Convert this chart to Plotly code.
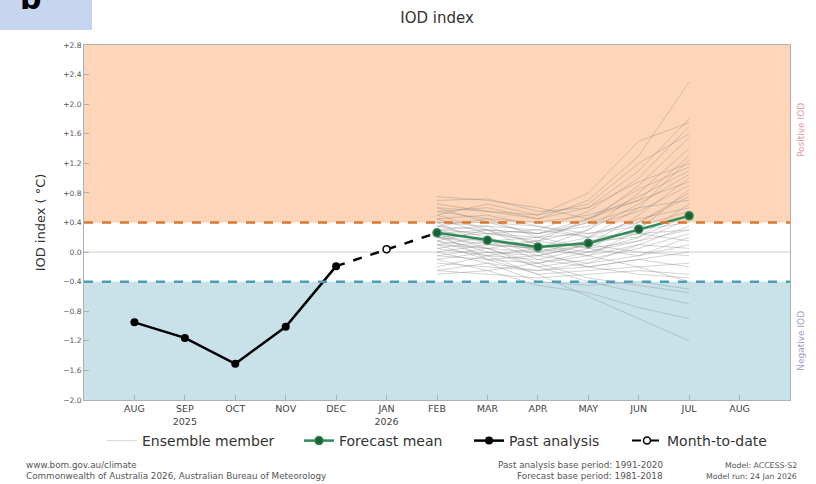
import plotly.graph_objects as go

# ---------------- data ----------------
month_labels = ["AUG", "SEP<br>2025", "OCT", "NOV", "DEC", "JAN<br>2026", "FEB",
                "MAR", "APR", "MAY", "JUN", "JUL", "AUG"]
month_pos = list(range(len(month_labels)))

past_months = ["AUG", "SEP", "OCT", "NOV", "DEC"]
past_values = [-0.95, -1.16, -1.51, -1.01, -0.19]

mtd_month = ["JAN"]
mtd_value = [0.04]

fc_months = ["FEB", "MAR", "APR", "MAY", "JUN", "JUL"]
fc_mean = [0.26, 0.16, 0.07, 0.12, 0.31, 0.49]

ensemble_members = [
    [0.55, 0.60, 0.45, 0.70, 1.30, 2.30],
    [0.70, 0.72, 0.55, 0.60, 1.10, 1.80],
    [0.40, 0.35, 0.30, 0.55, 1.00, 1.70],
    [0.30, 0.25, 0.20, 0.40, 0.90, 1.55],
    [0.20, 0.10, 0.05, 0.30, 0.80, 1.40],
    [0.45, 0.50, 0.35, 0.20, 0.60, 1.25],
    [0.10, 0.05, 0.15, 0.45, 0.75, 1.10],
    [0.35, 0.20, -0.05, 0.10, 0.50, 1.00],
    [0.60, 0.40, 0.25, 0.35, 0.55, 0.90],
    [0.25, 0.30, 0.10, -0.05, 0.30, 0.85],
    [0.15, -0.05, -0.10, 0.05, 0.40, 0.75],
    [0.50, 0.30, 0.00, 0.15, 0.20, 0.65],
    [0.05, 0.15, 0.20, 0.25, 0.35, 0.55],
    [0.30, 0.35, 0.10, 0.00, 0.15, 0.45],
    [-0.05, -0.10, -0.15, -0.05, 0.10, 0.35],
    [0.20, 0.00, -0.20, -0.10, 0.05, 0.25],
    [0.40, 0.10, 0.05, 0.20, 0.25, 0.15],
    [-0.15, -0.20, -0.25, -0.15, -0.05, 0.10],
    [0.10, 0.20, 0.00, -0.20, -0.10, 0.00],
    [0.25, -0.10, -0.30, -0.25, -0.20, -0.15],
    [-0.25, -0.30, -0.35, -0.30, -0.25, -0.30],
    [0.00, -0.15, -0.40, -0.45, -0.40, -0.50],
    [0.15, 0.05, -0.20, -0.40, -0.55, -0.70],
    [-0.10, -0.25, -0.45, -0.55, -0.75, -0.90],
    [0.05, -0.05, -0.30, -0.60, -0.90, -1.20],
    [0.35, 0.45, 0.40, 0.50, 0.70, 0.95],
    [0.65, 0.55, 0.45, 0.60, 0.95, 1.20],
    [0.20, 0.25, 0.30, 0.20, 0.45, 0.60],
    [-0.20, -0.05, 0.05, 0.15, 0.30, 0.40],
    [0.45, 0.25, 0.15, 0.30, 0.65, 1.05],
    [0.10, -0.10, -0.05, 0.10, 0.00, -0.05],
    [0.30, 0.15, -0.10, -0.20, -0.30, -0.35],
    [0.55, 0.45, 0.20, 0.05, 0.15, 0.30],
    [-0.30, -0.25, -0.15, 0.00, 0.20, 0.50],
    [0.15, 0.30, 0.25, 0.40, 0.60, 0.70],
    [0.50, 0.65, 0.50, 0.80, 1.50, 1.75],
    [0.00, 0.10, 0.15, 0.05, -0.05, 0.20],
    [0.25, 0.05, -0.15, -0.35, -0.45, -0.55],
    [0.40, 0.40, 0.35, 0.25, 0.40, 0.80],
    [-0.10, 0.00, -0.05, -0.15, 0.10, 0.05],
    [0.75, 0.70, 0.60, 0.45, 0.70, 1.30],
    [0.60, 0.55, 0.50, 0.65, 1.20, 1.60],
    [-0.25, -0.15, -0.25, -0.20, -0.10, -0.20],
    [0.20, 0.15, 0.05, -0.05, -0.20, -0.40],
    [0.35, 0.30, 0.25, 0.45, 0.85, 1.15],
    [-0.05, 0.05, 0.00, 0.10, 0.25, 0.30],
]

y_ticks = [2.8, 2.4, 2.0, 1.6, 1.2, 0.8, 0.4, 0.0, -0.4, -0.8, -1.2, -1.6, -2.0]
y_tick_labels = ["+2.8", "+2.4", "+2.0", "+1.6", "+1.2", "+0.8", "+0.4", "0.0",
                 "\u22120.4", "\u22120.8", "\u22121.2", "\u22121.6", "\u22122.0"]
pos_threshold = 0.4
neg_threshold = -0.4

# map month name -> axis position
name_to_pos = {}
for lbl, p in zip(month_labels, month_pos):
    key = lbl.split("<br>")[0]
    if key not in name_to_pos:
        name_to_pos[key] = p
x_past = [name_to_pos[m] for m in past_months]
x_mtd = [name_to_pos[m] for m in mtd_month]
x_fc = [name_to_pos[m] for m in fc_months]

FONT = "DejaVu Sans"
W, H = 816, 484
L, R, T, B = 84, 26, 45, 84
PW, PH = W - L - R, H - T - B


def px_x(px):
    return (px - L) / PW


def px_y(py):
    return 1 - (py - T) / PH


fig = go.Figure()

# background zones
fig.add_hrect(y0=pos_threshold, y1=y_ticks[0], fillcolor="#fdd6ba", line_width=0, layer="below")
fig.add_hrect(y0=y_ticks[-1], y1=neg_threshold, fillcolor="#c9e2e9", line_width=0, layer="below")
fig.add_hline(y=0, line=dict(color="#cfcfcf", width=1), layer="below")

# ensemble members
for i, mem in enumerate(ensemble_members):
    fig.add_trace(go.Scatter(
        x=x_fc, y=mem, mode="lines",
        line=dict(color="rgba(125,125,125,0.42)", width=0.8),
        name="Ensemble member", legendgroup="ens", showlegend=(i == 0),
        legend="legend", hoverinfo="skip"))

# threshold dashed lines
fig.add_hline(y=pos_threshold, line=dict(color="#d9782e", width=2.5, dash="dash"))
fig.add_hline(y=neg_threshold, line=dict(color="#4c9db6", width=2.5, dash="dash"))

# forecast mean
fig.add_trace(go.Scatter(
    x=x_fc, y=fc_mean, mode="lines+markers", name="Forecast mean", legend="legend2",
    line=dict(color="#2f8a55", width=2.5),
    marker=dict(color="#1f5c38", size=8, line=dict(color="#2f8a55", width=1.5))))

# past analysis
fig.add_trace(go.Scatter(
    x=x_past, y=past_values, mode="lines+markers", name="Past analysis", legend="legend3",
    line=dict(color="black", width=2.5),
    marker=dict(color="black", size=8)))

# dashed connection through month-to-date
fig.add_trace(go.Scatter(
    x=[x_past[-1], x_mtd[0], x_fc[0]], y=[past_values[-1], mtd_value[0], fc_mean[0]],
    mode="lines", line=dict(color="black", width=2.5, dash="dash"),
    showlegend=False, hoverinfo="skip"))

fig.add_trace(go.Scatter(
    x=x_mtd, y=mtd_value, mode="lines+markers", name="Month-to-date", legend="legend4",
    line=dict(color="black", width=2, dash="dash"),
    marker=dict(color="white", size=7, line=dict(color="black", width=1.5))))

leg_font = dict(size=14, color="#333333", family=FONT)
leg_y = px_y(441)


def leg(xpx):
    return dict(orientation="h", x=px_x(xpx), xanchor="left", y=leg_y, yanchor="middle",
                font=leg_font, bgcolor="rgba(0,0,0,0)", itemwidth=30)


fig.update_layout(
    width=W, height=H,
    margin=dict(l=L, r=R, t=T, b=B),
    paper_bgcolor="white", plot_bgcolor="white",
    font=dict(family=FONT, color="#333333"),
    title=dict(text="IOD index", x=0.5, xref="paper", y=1 - 18 / H, yanchor="middle",
               font=dict(size=15, color="#333333", family=FONT)),
    showlegend=True,
    legend=leg(102),
    legend2=leg(299),
    legend3=leg(469),
    legend4=leg(627),
    xaxis=dict(range=[-1, 13], tickvals=month_pos, ticktext=month_labels,
               showgrid=False, zeroline=False, showline=True, linecolor="#b0b0b0",
               mirror=True, ticks="inside", ticklen=5, tickcolor="#b0b0b0",
               tickfont=dict(size=9.5, color="#444444", family=FONT)),
    yaxis=dict(range=[y_ticks[-1], y_ticks[0]], tickvals=y_ticks, ticktext=y_tick_labels,
               showgrid=False, zeroline=False, showline=True, linecolor="#b0b0b0",
               mirror=True, ticks="inside", ticklen=5, tickcolor="#b0b0b0",
               tickfont=dict(size=7.5, color="#555555", family=FONT),
               title=dict(text="IOD index ( \u00b0C)", standoff=14,
                          font=dict(size=13, color="#333333", family=FONT))),
)

# zone labels on right
fig.add_annotation(x=px_x(801), xref="paper", y=1.65, yref="y", text="Positive IOD",
                   textangle=-90, showarrow=False, xanchor="center",
                   font=dict(size=9, color="#e69a9a", family=FONT))
fig.add_annotation(x=px_x(801), xref="paper", y=-1.2, yref="y", text="Negative IOD",
                   textangle=-90, showarrow=False, xanchor="center",
                   font=dict(size=9, color="#9c9cc6", family=FONT))

# footer texts (one annotation per line)
footer_left = ["www.bom.gov.au/climate",
               "Commonwealth of Australia 2026, Australian Bureau of Meteorology"]
footer_mid = ["Past analysis base period: 1991-2020", "Forecast base period: 1981-2018"]
footer_right = ["Model: ACCESS-S2", "Model run: 24 Jan 2026"]
line_ys = [465, 476]
for txt, ypx in zip(footer_left, line_ys):
    fig.add_annotation(x=px_x(24), xref="paper", xanchor="left", y=px_y(ypx), yref="paper",
                       yanchor="middle", text=txt, showarrow=False, height=10,
                       font=dict(size=8.8, color="#555555", family=FONT))
for txt, ypx in zip(footer_mid, line_ys):
    fig.add_annotation(x=px_x(665), xref="paper", xanchor="right", y=px_y(ypx), yref="paper",
                       yanchor="middle", text=txt, showarrow=False, height=10,
                       font=dict(size=8.8, color="#555555", family=FONT))
for txt, ypx in zip(footer_right, line_ys):
    fig.add_annotation(x=px_x(799), xref="paper", xanchor="right", y=px_y(ypx), yref="paper",
                       yanchor="middle", text=txt, showarrow=False, height=10,
                       font=dict(size=7.8, color="#555555", family=FONT))

# panel label box top-left
fig.add_shape(type="rect", xref="paper", yref="paper",
              x0=px_x(0), x1=px_x(92), y0=px_y(30), y1=px_y(0),
              fillcolor="#c6d6ef", line_width=0, layer="below")
fig.add_annotation(x=px_x(30), xref="paper", y=px_y(-1), yref="paper",
                   text="<b>b</b>", showarrow=False, xanchor="center", yanchor="middle",
                   font=dict(size=30, color="black", family=FONT))

fig.write_html("out.html", config={"displayModeBar": False},
               post_script="document.body.style.margin='0';document.body.style.overflow='hidden';")
